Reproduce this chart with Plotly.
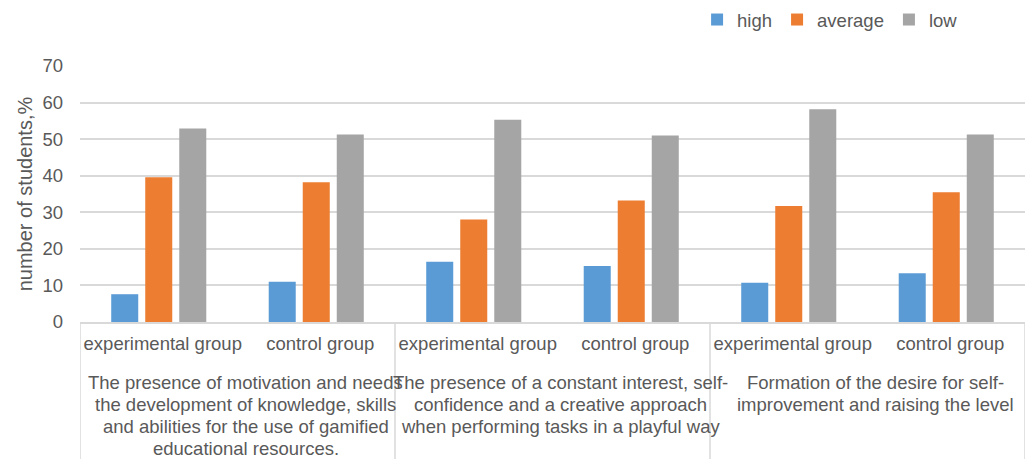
import plotly.graph_objects as go

# Data
inner_labels = ["experimental group", "control group"] * 3
outer_labels = [
    ["The presence of motivation and needs", "the development of knowledge, skills",
     "and abilities for the use of gamified", "educational resources."],
    ["The presence of a constant interest, self-", "confidence and a creative approach",
     "when performing tasks in a playful way"],
    ["Formation of the desire for self-", "improvement and raising the level"],
]
high = [7.6, 11.0, 16.5, 15.3, 10.7, 13.3]
average = [39.6, 38.2, 28.0, 33.2, 31.7, 35.5]
low = [52.9, 51.3, 55.3, 51.0, 58.2, 51.3]
series = [("high", high, "#5B9BD5"), ("average", average, "#ED7D31"), ("low", low, "#A5A5A5")]

FONT = "Liberation Sans, Arial, sans-serif"
TXT = "#595959"
GRID = "#D9D9D9"

W, H = 1030, 459
ML, MR, MT, MB = 80, 5, 66, 137
plot_h = H - MT - MB

xs = list(range(len(inner_labels)))

fig = go.Figure()
for name, vals, col in series:
    fig.add_trace(go.Bar(x=xs, y=vals, name=name, marker=dict(color=col, line=dict(width=0))))

annotations = []
for gi, lines in enumerate(outer_labels):
    xc = gi * 2 + 0.5
    for li, txt in enumerate(lines):
        ypx = 382 + 22 * li  # pixel row from top
        annotations.append(dict(
            x=xc, xref="x", y=(H - MB - ypx) / plot_h, yref="paper",
            text=txt, showarrow=False, xanchor="center", yanchor="middle",
            xshift=8, font=dict(family=FONT, size=18.5, color=TXT),
        ))

shapes = []
for b in [-0.5, 1.5, 3.5, 5.5]:
    shapes.append(dict(type="line", xref="x", yref="paper", x0=b, x1=b,
                       y0=0, y1=-(MB) / plot_h, line=dict(color=GRID, width=1.5)))

fig.update_layout(
    width=W, height=H,
    margin=dict(l=ML, r=MR, t=MT, b=MB, autoexpand=False),
    paper_bgcolor="white", plot_bgcolor="white",
    barmode="group", bargap=0.352, bargroupgap=0.206,
    font=dict(family=FONT, size=18.5, color=TXT),
    showlegend=True,
    legend=dict(orientation="h", x=0.653, xanchor="left", y=1 - 20 / H, yref="container",
                yanchor="middle", font=dict(size=18.5, color=TXT), traceorder="normal"),
    yaxis=dict(range=[0, 70], dtick=10, showgrid=True, gridcolor=GRID, gridwidth=1.5,
               zeroline=False, showline=False, ticks="", ticklabelstandoff=16,
               tickfont=dict(size=18.5, color=TXT),
               title=dict(text="number of students,%", font=dict(size=20, color=TXT), standoff=4)),
    xaxis=dict(range=[-0.5, 5.5], tickmode="array", tickvals=xs, ticktext=inner_labels,
               showline=True, linecolor=GRID, linewidth=1.5, showgrid=False, zeroline=False,
               ticks="", ticklabelstandoff=4, ticklabelshift=4,
               tickfont=dict(size=18.5, color=TXT)),
    annotations=annotations,
    shapes=shapes,
)

fig.write_html("out.html")
